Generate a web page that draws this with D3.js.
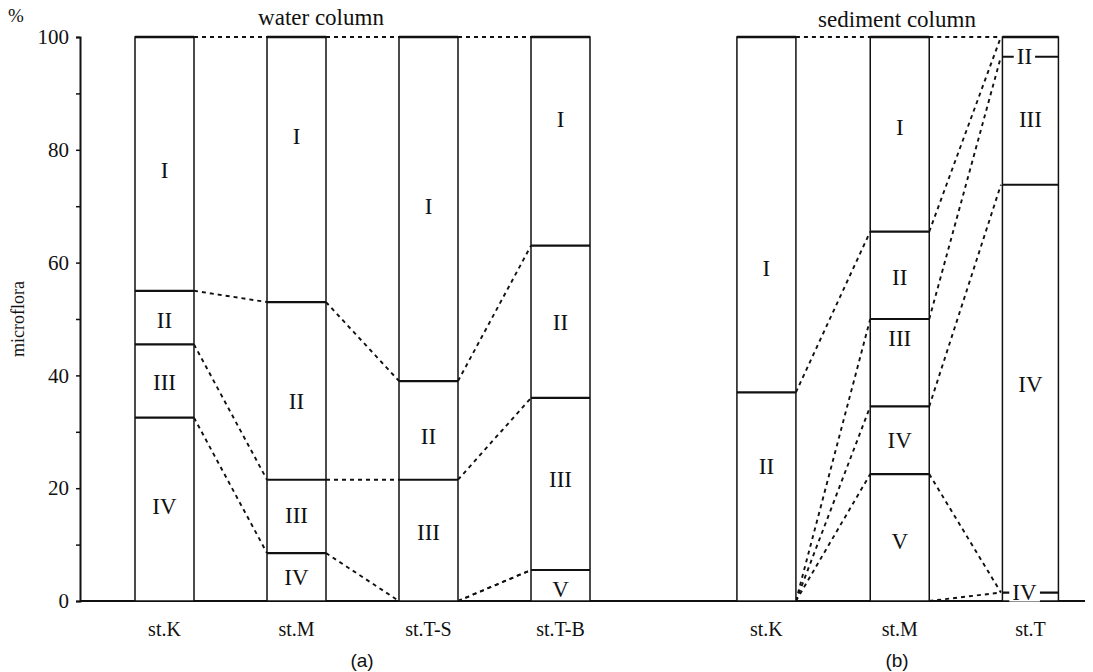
<!DOCTYPE html>
<html>
<head>
<meta charset="utf-8">
<script src="https://cdn.jsdelivr.net/npm/d3@7"></script>
<style>
  body { margin: 0; background: #fff; }
  text { font-family: "Liberation Serif", "DejaVu Serif", serif; fill: #111; }
</style>
</head>
<body>
<div id="visualization"></div>
<script>
// ---- microflora composition, water column (a) and sediment column (b) ----

const categories = ["I", "II", "III", "IV", "V"];
const yTicks = [0, 20, 40, 60, 80, 100];

// water column stations, % of each group from top (I) to bottom (V)
const waterStations = ["st.K", "st.M", "st.T-S", "st.T-B"];
const waterValues = [
    [45, 9.5, 13, 32.5, 0],
    [47, 31.5, 13, 8.5, 0],
    [61, 17.5, 21.5, 0, 0],
    [37, 27, 30.5, 0, 5.5]
];
// where each label sits (in %)
const waterLabelAt = [
    [76.4, 49.8, 38.7, 16.8, null],
    [82.3, 35.3, 15.2, 4.1, null],
    [69.9, 29.1, 12.2, null, null],
    [85.3, 49.3, 21.5, null, 2]
];

// sediment column stations
const sedStations = ["st.K", "st.M", "st.T"];
const sedValues = [
    [63, 37, 0, 0, 0],
    [34.5, 15.5, 15.5, 12, 22.5],
    [0, 3.5, 22.7, 72.3, 1.5]
];
const sedLabelAt = [
    [59, 23.8, null, null, null],
    [84, 57.3, 46.6, 28.5, 10.5],
    [null, 96.5, 85.3, 38.3, 1.5]
];
// the bottom sliver of st.T is printed as "IV" in the original
const sedLabelText = [
    categories, categories, ["I", "II", "III", "IV", "IV"]
];
// one extra dashed link drawn in the original (st.M base -> st.T sliver)
const sedExtraLinks = [{ from: 1, to: 2, a: 0, b: 1.5 }];

const width = 1093, height = 672;
const svg = d3.select("#visualization").append("svg")
    .attr("width", width).attr("height", height);

const y = d3.scaleLinear().domain([0, 100]).range([601, 37]);
// slot index -> bar centre
const x = d3.scaleLinear().domain([0, 1]).range([164.5, 296.5]);
const barW = 59;
const waterSlots = [0, 1, 2, 3];
const sedSlots = [4.56, 5.57, 6.56];

// y axis
const axis = svg.append("g").attr("transform", "translate(80,0)")
    .call(d3.axisLeft(y).tickValues(d3.range(0, 101, 10)).tickSize(4)
        .tickFormat(d => yTicks.includes(d) ? d : ""));
axis.select(".domain").attr("stroke", "#111").attr("stroke-width", 2);
axis.selectAll(".tick line").attr("stroke", "#111").attr("stroke-width", 1.5);
axis.selectAll(".tick text")
    .attr("x", -11)
    .style("font-family", "Liberation Serif, serif")
    .style("font-size", "21px").attr("fill", "#111");

// baseline
svg.append("line")
    .attr("x1", 80).attr("x2", 1085)
    .attr("y1", y(0)).attr("y2", y(0))
    .attr("stroke", "#111").attr("stroke-width", 2);

svg.append("text").attr("x", 8).attr("y", 22)
    .style("font-size", "19px").text("%");
svg.append("text")
    .attr("transform", "rotate(-90)")
    .attr("x", -319).attr("y", 24)
    .attr("text-anchor", "middle")
    .style("font-size", "18px").text("microflora");

function drawGroup(stations, values, labelAt, labelText, slots, extra) {
    const g = svg.append("g");
    const stacks = values.map(v => {
        let top = 100;
        return v.map(val => { const s = { top: top, bottom: top - val, value: val }; top -= val; return s; });
    });

    // dashed links between neighbouring bars
    const links = [];
    for (let i = 0; i < stations.length - 1; i++) {
        links.push({ from: i, to: i + 1, a: 100, b: 100 });
        for (let k = 0; k < categories.length; k++) {
            const a = stacks[i][k].bottom, b = stacks[i + 1][k].bottom;
            if (Math.abs(a) < 1e-6 && Math.abs(b) < 1e-6) continue;
            links.push({ from: i, to: i + 1, a: a, b: b });
        }
    }
    extra.forEach(l => links.push(l));
    g.selectAll("line.link").data(links).enter().append("line")
        .attr("class", "link")
        .attr("x1", d => x(slots[d.from]) + barW / 2)
        .attr("x2", d => x(slots[d.to]) - barW / 2)
        .attr("y1", d => y(d.a)).attr("y2", d => y(d.b))
        .attr("stroke", "#111").attr("stroke-width", 1.9)
        .attr("stroke-dasharray", "4,4");

    stations.forEach((st, i) => {
        const cx = x(slots[i]);
        const w = st === "st.T" ? 56 : barW;
        g.append("rect")
            .attr("x", cx - w / 2).attr("y", y(100))
            .attr("width", w).attr("height", y(0) - y(100))
            .attr("fill", "#fff").attr("stroke", "#111").attr("stroke-width", 1.5);
        g.append("line")
            .attr("x1", cx - w / 2).attr("x2", cx + w / 2)
            .attr("y1", y(100)).attr("y2", y(100))
            .attr("stroke", "#111").attr("stroke-width", 2.6);
        stacks[i].forEach((s, k) => {
            if (s.value > 0 && s.bottom > 0.01) {
                g.append("line")
                    .attr("x1", cx - w / 2).attr("x2", cx + w / 2)
                    .attr("y1", y(s.bottom)).attr("y2", y(s.bottom))
                    .attr("stroke", "#111").attr("stroke-width", 2.2);
            }
            if (s.value > 0 && labelAt[i][k] != null) {
                const txt = labelText[i][k];
                const thin = s.value < 5 && st === "st.T";
                const t = g.append("text")
                    .attr("x", thin ? cx - 6 : cx)
                    .attr("y", y(labelAt[i][k]))
                    .attr("text-anchor", "middle")
                    .attr("dominant-baseline", "central")
                    .style("font-size", "23px")
                    .text(txt);
                if (thin) {
                    const bb = t.node().getBBox();
                    g.insert("rect", () => t.node())
                        .attr("x", bb.x - 3).attr("y", y(labelAt[i][k]) - 9)
                        .attr("width", bb.width + 6).attr("height", 18)
                        .attr("fill", "#fff");
                }
            }
        });
        g.append("text")
            .attr("x", cx).attr("y", 636)
            .attr("text-anchor", "middle")
            .style("font-size", "20px").text(st);
    });
}

drawGroup(waterStations, waterValues, waterLabelAt,
    waterStations.map(() => categories), waterSlots, []);
drawGroup(sedStations, sedValues, sedLabelAt, sedLabelText, sedSlots, sedExtraLinks);

svg.append("text").attr("x", 321).attr("y", 25).attr("text-anchor", "middle")
    .style("font-size", "23px").text("water column");
svg.append("text").attr("x", 897).attr("y", 27).attr("text-anchor", "middle")
    .style("font-size", "23px").text("sediment column");
svg.append("text").attr("x", 362).attr("y", 667).attr("text-anchor", "middle")
    .style("font-family", "Liberation Sans, sans-serif")
    .style("font-size", "19px").text("(a)");
svg.append("text").attr("x", 897).attr("y", 667).attr("text-anchor", "middle")
    .style("font-family", "Liberation Sans, sans-serif")
    .style("font-size", "19px").text("(b)");
</script>
</body>
</html>
